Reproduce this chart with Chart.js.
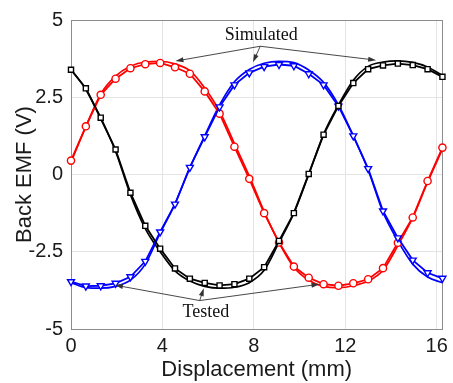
<!DOCTYPE html>
<html>
<head>
<meta charset="utf-8">
<script src="https://cdn.jsdelivr.net/npm/chart.js@4/dist/chart.umd.min.js"></script>
<style>
  body { margin: 0; background: #fff; }
</style>
</head>
<body>
<canvas id="emfChart" width="453" height="383"></canvas>
<script>
// Displacement (mm) and back EMF values (V)
const displacement = [0, 0.65, 1.3, 1.95, 2.6, 3.25, 3.9, 4.55, 5.2, 5.85, 6.5, 7.15, 7.8,
  8.45, 9.1, 9.75, 10.4, 11.05, 11.7, 12.35, 13, 13.65, 14.3, 14.95, 15.6, 16.25];

const redTested = [0.45, 1.56, 2.58, 3.10, 3.44, 3.57, 3.61, 3.47, 3.26, 2.69, 1.97, 0.90, -0.14,
  -1.25, -2.2, -2.98, -3.34, -3.55, -3.60, -3.52, -3.39, -3.03, -2.21, -1.39, -0.21, 0.87];
const blueTested = [-3.47, -3.61, -3.60, -3.52, -3.31, -2.81, -1.86, -0.96, 0.23, 1.22, 2.19, 2.90, 3.29,
  3.49, 3.56, 3.52, 3.26, 2.90, 2.21, 1.25, 0.19, -1.18, -2.05, -2.77, -3.18, -3.36];
const blackTested = [3.39, 2.79, 1.84, 0.81, -0.59, -1.66, -2.40, -3.04, -3.37, -3.51, -3.59, -3.55, -3.37,
  -3.0, -2.15, -1.25, 0.02, 1.29, 2.22, 2.96, 3.41, 3.53, 3.59, 3.54, 3.41, 3.16];

const redSimulated = [0.40, 1.55, 2.60, 3.18, 3.50, 3.64, 3.66, 3.58, 3.36, 2.80, 2.05, 1.00, -0.05,
  -1.20, -2.20, -3.00, -3.42, -3.62, -3.66, -3.60, -3.45, -3.10, -2.30, -1.40, -0.25, 0.82];
const blueSimulated = [-3.50, -3.66, -3.68, -3.62, -3.42, -2.90, -1.90, -0.95, 0.22, 1.25, 2.25, 3.00, 3.40,
  3.60, 3.66, 3.62, 3.38, 2.98, 2.25, 1.25, 0.15, -1.22, -2.15, -2.90, -3.32, -3.50];
const blackSimulated = [3.40, 2.75, 1.80, 0.75, -0.65, -1.75, -2.50, -3.12, -3.45, -3.62, -3.68, -3.65, -3.50,
  -3.10, -2.20, -1.25, 0.00, 1.30, 2.25, 3.05, 3.50, 3.64, 3.68, 3.63, 3.48, 3.20];

const xTicks = [0, 4, 8, 12, 16];
const yTicks = [-5, -2.5, 0, 2.5, 5];

const pts = ys => ys.map((y, i) => ({ x: displacement[i], y: y }));

// annotations (data units): label position, junction, arrow tips
const notes = [
  { text: 'Simulated', at: [8.32, 4.51], from: [8.28, 4.15], to: [[4.57, 3.67], [7.96, 3.63], [13.35, 3.70]] },
  { text: 'Tested', at: [5.90, -4.46], from: [5.63, -4.08], to: [[1.92, -3.58], [5.81, -3.68], [10.87, -3.55]] }
];

function arrow(ctx, x1, y1, x2, y2) {
  const a = Math.atan2(y2 - y1, x2 - x1);
  const len = 8, w = 2.5;
  ctx.beginPath();
  ctx.moveTo(x1, y1);
  ctx.lineTo(x2 - len * 0.6 * Math.cos(a), y2 - len * 0.6 * Math.sin(a));
  ctx.stroke();
  ctx.beginPath();
  ctx.moveTo(x2, y2);
  ctx.lineTo(x2 - len * Math.cos(a) + w * Math.sin(a), y2 - len * Math.sin(a) - w * Math.cos(a));
  ctx.lineTo(x2 - len * Math.cos(a) - w * Math.sin(a), y2 - len * Math.sin(a) + w * Math.cos(a));
  ctx.closePath();
  ctx.fill();
}

const plotBox = {
  id: 'plotBox',
  beforeDatasetsDraw(chart) {
    const { ctx, chartArea: c } = chart;
    ctx.save();
    ctx.strokeStyle = '#8c8c8c';
    ctx.lineWidth = 1;
    ctx.strokeRect(Math.round(c.left) + 0.5, Math.round(c.top) + 0.5,
      Math.round(c.right - c.left), Math.round(c.bottom - c.top));
    ctx.restore();
  }
};

const callouts = {
  id: 'callouts',
  afterDatasetsDraw(chart) {
    const { ctx, scales: { x, y } } = chart;
    ctx.save();
    ctx.strokeStyle = '#333';
    ctx.fillStyle = '#333';
    ctx.lineWidth = 0.9;
    notes.forEach(n => {
      const fx = x.getPixelForValue(n.from[0]), fy = y.getPixelForValue(n.from[1]);
      n.to.forEach(t => arrow(ctx, fx, fy, x.getPixelForValue(t[0]), y.getPixelForValue(t[1])));
      ctx.fillStyle = '#111';
      ctx.font = '18px "Liberation Serif", "Times New Roman", serif';
      ctx.textAlign = 'center';
      ctx.textBaseline = 'middle';
      ctx.fillText(n.text, x.getPixelForValue(n.at[0]), y.getPixelForValue(n.at[1]));
      ctx.fillStyle = '#333';
    });
    ctx.restore();
  }
};

function tested(data, color, style, radius, rotation) {
  return {
    data: pts(data),
    borderColor: color,
    borderWidth: 1.8,
    pointStyle: style,
    pointRadius: radius,
    pointRotation: rotation || 0,
    pointBorderWidth: 1.4,
    pointBorderColor: color,
    pointBackgroundColor: '#fff',
    tension: 0,
    clip: false
  };
}

function simulated(data, color) {
  return {
    data: pts(data),
    borderColor: color,
    borderWidth: 1.7,
    pointRadius: 0,
    cubicInterpolationMode: 'monotone',
    clip: false
  };
}

const tickFont = { family: 'Liberation Sans', size: 20 };
const titleFont = { family: 'Liberation Sans', size: 22 };

new Chart(document.getElementById('emfChart'), {
  type: 'line',
  data: {
    datasets: [
      tested(blackTested, '#000', 'rect', 3.6),
      tested(blueTested, '#0000ff', 'triangle', 4, 180),
      tested(redTested, '#ff0000', 'circle', 3.6),
      simulated(blackSimulated, '#000'),
      simulated(blueSimulated, '#0000ff'),
      simulated(redSimulated, '#ff0000')
    ]
  },
  options: {
    responsive: false,
    animation: false,
    layout: { padding: { left: 0, top: 14, right: 10, bottom: 0 } },
    plugins: { legend: { display: false }, tooltip: { enabled: false } },
    scales: {
      x: {
        type: 'linear',
        min: 0,
        max: 16.25,
        afterBuildTicks: s => { s.ticks = xTicks.map(v => ({ value: v })); },
        afterFit: s => { s.height = 54; },
        grid: { color: '#e4e4e4', drawTicks: false },
        border: { display: false },
        ticks: { color: '#1a1a1a', font: tickFont, padding: 5, maxRotation: 0, callback: v => String(v) },
        title: { display: true, text: 'Displacement (mm)', color: '#1a1a1a', font: titleFont, padding: { top: 0, bottom: 0 } }
      },
      y: {
        min: -5,
        max: 5,
        afterBuildTicks: s => { s.ticks = yTicks.map(v => ({ value: v })); },
        afterFit: s => { s.width = 71; },
        grid: { color: '#e4e4e4', drawTicks: false },
        border: { display: false },
        ticks: { color: '#1a1a1a', font: tickFont, padding: 8, callback: v => String(v) },
        title: { display: true, text: 'Back EMF (V)', color: '#1a1a1a', font: titleFont, padding: { top: 12, bottom: 0 } }
      }
    }
  },
  plugins: [plotBox, callouts]
});
</script>
</body>
</html>
